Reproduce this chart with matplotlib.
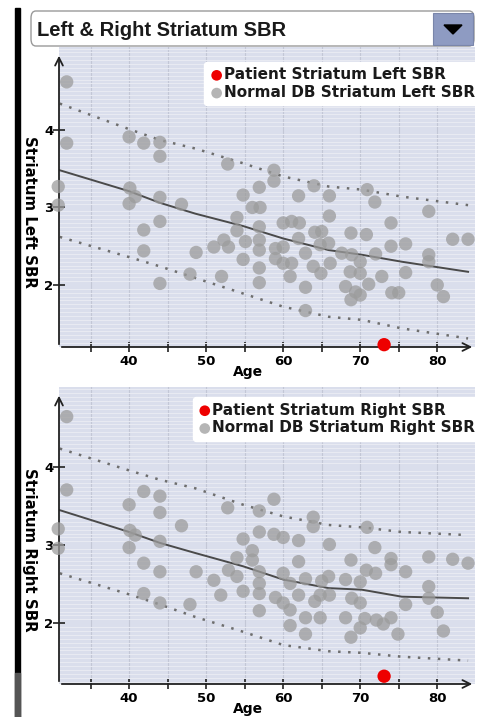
import matplotlib
matplotlib.use("Agg")
import matplotlib.pyplot as plt
from matplotlib.patches import FancyBboxPatch, Rectangle, Polygon
from matplotlib.ticker import MultipleLocator

plt.rcParams['font.family'] = ['DejaVu Sans']

# ---- data ----
left_age = [31.9, 31.9, 30.8, 30.8, 40.0, 41.9, 44.0, 44.0, 40.1, 40.8, 40.0, 44.0, 46.8,
            44.0, 41.9, 41.9, 48.7, 47.9, 44.0,
            52.8, 58.8, 58.8, 56.9, 54.8, 62.0, 64.0, 66.0, 66.0, 56.0, 57.0, 54.0, 56.9,
            54.0, 52.3, 52.9, 51.0, 55.1, 56.9, 56.9, 54.8, 56.9, 56.9, 52.0, 60.0, 61.1,
            62.1, 59.0, 60.0, 59.0, 60.0, 61.1, 60.9, 62.0, 62.9, 64.1, 65.0, 64.8, 65.9,
            66.1, 63.9, 64.9, 62.9, 62.9,
            70.9, 71.9, 78.9, 74.0, 68.8, 70.8, 82.0, 84.0, 74.0, 75.9, 67.6, 68.9, 72.0,
            78.9, 78.9, 70.0, 68.7, 70.0, 72.8, 75.9, 68.1, 71.1, 69.4, 68.8, 70.0, 74.1,
            75.0, 80.0, 80.8]
left_sbr = [4.62, 3.83, 3.27, 3.03, 3.91, 3.83, 3.84, 3.66, 3.25, 3.14, 3.05, 3.13, 3.04,
            2.82, 2.71, 2.44, 2.42, 2.14, 2.02,
            3.56, 3.48, 3.34, 3.26, 3.16, 3.15, 3.28, 3.15, 2.89, 3.00, 3.00, 2.87, 2.75,
            2.70, 2.58, 2.49, 2.49, 2.56, 2.58, 2.45, 2.33, 2.22, 2.03, 2.11, 2.80, 2.82,
            2.80, 2.47, 2.49, 2.34, 2.28, 2.28, 2.11, 2.60, 2.41, 2.68, 2.69, 2.52, 2.54,
            2.28, 2.24, 2.15, 1.97, 1.67,
            3.23, 3.07, 2.95, 2.80, 2.67, 2.65, 2.59, 2.59, 2.50, 2.53, 2.41, 2.39, 2.40,
            2.39, 2.30, 2.30, 2.17, 2.15, 2.11, 2.16, 1.98, 2.01, 1.91, 1.81, 1.87, 1.90,
            1.90, 2.00, 1.85]

right_age = [31.9, 31.9, 30.8, 30.8, 41.9, 44.0, 40.0, 44.0, 46.8, 40.1, 40.8, 40.0, 44.0,
             41.9, 44.0, 48.7, 41.9, 44.0, 47.9,
             52.8, 58.8, 56.9, 63.9, 63.9, 54.8, 56.9, 58.8, 60.0, 62.0, 66.0, 56.0, 56.0,
             54.0, 62.0, 52.9, 54.0, 51.0, 56.9, 56.9, 56.9, 54.8, 51.9, 60.0, 60.9, 62.9,
             65.0, 65.9, 62.0, 64.1, 64.8, 66.0, 59.0, 60.0, 60.9, 56.9, 62.9, 64.8, 60.9,
             62.9,
             70.9, 71.9, 74.0, 74.0, 78.9, 82.0, 84.0, 68.8, 70.8, 72.0, 75.9, 68.1, 70.0,
             78.9, 78.9, 68.9, 70.0, 75.9, 80.0, 68.1, 70.6, 72.1, 74.0, 73.0, 70.0, 74.9,
             80.8, 68.8]
right_sbr = [4.65, 3.71, 3.21, 2.96, 3.69, 3.63, 3.52, 3.42, 3.25, 3.19, 3.13, 2.97, 3.05,
             2.77, 2.66, 2.66, 2.38, 2.26, 2.24,
             3.48, 3.59, 3.44, 3.36, 3.24, 3.08, 3.17, 3.14, 3.10, 3.06, 3.01, 2.93, 2.81,
             2.84, 2.79, 2.68, 2.60, 2.55, 2.66, 2.51, 2.38, 2.41, 2.36, 2.64, 2.51, 2.57,
             2.54, 2.60, 2.36, 2.28, 2.36, 2.36, 2.33, 2.26, 2.17, 2.16, 2.07, 2.07, 1.97,
             1.86,
             3.23, 2.97, 2.83, 2.75, 2.85, 2.82, 2.77, 2.81, 2.68, 2.64, 2.66, 2.56, 2.53,
             2.47, 2.32, 2.32, 2.26, 2.24, 2.14, 2.07, 2.06, 2.04, 2.07, 1.99, 1.94, 1.86,
             1.90, 1.82]

patient_age = 73.1
patient_left = 1.23
patient_right = 1.32

curve_age = [31, 40, 44, 48.6, 54.8, 60, 65.9, 70.2, 75.4, 84]
left_mean = [3.48, 3.21, 3.06, 2.92, 2.76, 2.60, 2.45, 2.39, 2.30, 2.17]
left_upper = [4.34, 4.01, 3.87, 3.76, 3.57, 3.40, 3.27, 3.23, 3.14, 3.03]
left_lower = [2.62, 2.36, 2.24, 2.09, 1.89, 1.72, 1.59, 1.55, 1.44, 1.31]
right_mean = [3.45, 3.17, 3.03, 2.90, 2.73, 2.56, 2.45, 2.43, 2.34, 2.32]
right_upper = [4.24, 3.96, 3.84, 3.73, 3.52, 3.37, 3.26, 3.23, 3.17, 3.13]
right_lower = [2.64, 2.37, 2.24, 2.08, 1.89, 1.72, 1.64, 1.62, 1.57, 1.52]

W, H = 482, 717
fig = plt.figure(figsize=(W / 100, H / 100), dpi=100)
fig.patch.set_facecolor('white')


def fx(px):
    return px / W


def fy(py):
    return 1 - py / H


# black bar on the left edge
fig.patches.append(Rectangle((fx(15), fy(717)), fx(5), fy(8) - fy(717),
                             transform=fig.transFigure, color='black'))
fig.patches.append(Rectangle((fx(15), fy(717)), fx(5), fy(673) - fy(717),
                             transform=fig.transFigure, color='#555555'))

# title combo box
fig.patches.append(FancyBboxPatch((fx(31), fy(46)), fx(443), fy(11) - fy(46),
                                  boxstyle='round,pad=0,rounding_size=0.01',
                                  transform=fig.transFigure, facecolor='white',
                                  edgecolor='#9a9a9a', lw=1))
fig.patches.append(Rectangle((fx(433), fy(45)), fx(40), fy(13) - fy(45),
                             transform=fig.transFigure, facecolor='#8e9bc2',
                             edgecolor='#7a86aa', lw=0.8))
fig.patches.append(Polygon([(fx(444), fy(25)), (fx(462), fy(25)), (fx(453), fy(34))],
                           closed=True, transform=fig.transFigure, color='black'))
fig.text(fx(37), fy(30), 'Left & Right Striatum SBR', fontsize=14.5, fontweight='bold',
         color='#1a1a1a', va='center', ha='left', family='Liberation Sans')


def draw_panel(rect, ylim, ages, vals, p_val, mean, upper, lower, side, leg_top):
    ax = fig.add_axes(rect)
    ax.set_facecolor('#dadeec')
    ax.set_xlim(30.9, 84.9)
    ax.set_ylim(*ylim)

    ax.xaxis.set_major_locator(MultipleLocator(10))
    ax.xaxis.set_minor_locator(MultipleLocator(5))
    ax.yaxis.set_major_locator(MultipleLocator(1))
    ax.yaxis.set_minor_locator(MultipleLocator(0.05))
    ax.grid(which='both', axis='x', color='#c3c7d6', lw=0.8)
    ax.grid(which='minor', axis='y', color='#e9ebf3', lw=0.7)
    ax.set_axisbelow(True)

    for s in ax.spines.values():
        s.set_visible(False)
    ax.annotate('', xy=(1.0, 0), xytext=(0, 0), xycoords='axes fraction',
                arrowprops=dict(arrowstyle='->', color='#222222', lw=1.3,
                                mutation_scale=14))
    ax.annotate('', xy=(0, 0.98), xytext=(0, 0), xycoords='axes fraction',
                arrowprops=dict(arrowstyle='->', color='#222222', lw=1.3,
                                mutation_scale=14))

    ax.tick_params(axis='x', which='major', direction='inout', length=7, width=1.2,
                   labelsize=9.5, pad=2, color='#222222')
    ax.tick_params(axis='x', which='minor', direction='inout', length=7, width=1.2,
                   color='#222222')
    ax.tick_params(axis='y', which='major', direction='inout', length=8, width=1.2,
                   labelsize=9.5, pad=0, color='#222222')
    ax.tick_params(axis='y', which='minor', length=0)
    ax.set_xticks([40, 50, 60, 70, 80])
    ax.set_yticks([2, 3, 4])
    for t in ax.get_xticklabels() + ax.get_yticklabels():
        t.set_fontweight('bold')

    ax.plot(curve_age, upper, ls=(0, (1, 3)), color='#6e6e6e', lw=1.8)
    ax.plot(curve_age, lower, ls=(0, (1, 3)), color='#6e6e6e', lw=1.8)
    ax.plot(curve_age, mean, color='#4a4a4a', lw=1.4)

    ax.scatter(ages, vals, s=92, color='#9c9c9c', alpha=0.75, edgecolors='none',
               label=f'Normal DB Striatum {side} SBR', zorder=3, clip_on=False)
    ax.scatter([patient_age], [p_val], s=92, color='#ee0000', edgecolors='none',
               label=f'Patient Striatum {side} SBR', zorder=4, clip_on=False)

    h, lab = ax.get_legend_handles_labels()
    leg = ax.legend(h[::-1], lab[::-1], loc='upper right', bbox_to_anchor=(1.012, leg_top),
                    prop={'weight': 'bold', 'size': 11}, frameon=True,
                    facecolor='white', edgecolor='white', framealpha=1,
                    handletextpad=0.0, borderpad=0.35, labelspacing=0.18,
                    handlelength=0.9, borderaxespad=0, markerscale=0.8)
    for t in leg.get_texts():
        t.set_color('#1a1a1a')

    ax.set_xlabel('Age', fontsize=10, fontweight='bold')
    ax.xaxis.set_label_coords(0.455, -0.06)
    ax.set_ylabel(f'Striatum {side} SBR', fontsize=10.8, fontweight='bold',
                  rotation=270, va='center')
    ax.yaxis.set_label_coords(-0.07, 0.45)
    return ax


draw_panel([fx(59), fy(347), fx(416), fy(47) - fy(347)], (1.2, 5.07),
           left_age, left_sbr, patient_left, left_mean, left_upper, left_lower, 'Left', 0.95)
draw_panel([fx(59), fy(684), fx(416), fy(387) - fy(684)], (1.22, 5.03),
           right_age, right_sbr, patient_right, right_mean, right_upper, right_lower,
           'Right', 0.965)

fig.savefig('out.png', dpi=100)
